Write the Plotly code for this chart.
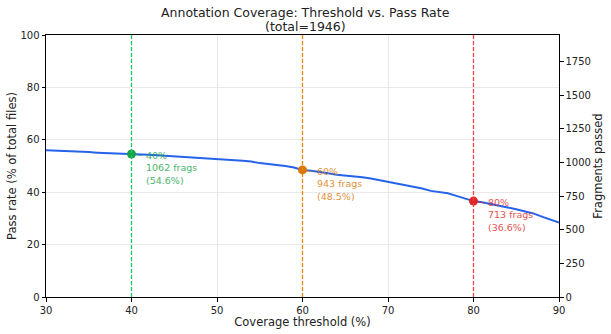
import plotly.graph_objects as go

total = 1946
thresholds = list(range(30, 91))
pass_rate = [56.0, 55.9, 55.8, 55.7, 55.4, 55.3, 55.1, 55.0, 54.9, 54.8,
             54.6, 54.4, 54.3, 54.1, 53.9, 53.8, 53.6, 53.3, 53.1, 53.0,
             52.6, 52.5, 52.3, 52.0, 51.7, 51.1, 50.8, 50.5, 50.0, 49.4,
             48.5, 48.2, 47.8, 47.2, 46.7, 46.4, 46.2, 45.7, 45.2, 44.6,
             43.8, 43.3, 42.8, 42.2, 41.4, 40.5, 40.1, 39.6, 38.6, 37.7,
             36.6, 36.2, 35.6, 35.0, 34.2, 33.5, 32.8, 31.9, 30.7, 29.6,
             28.4]

mark_thr = [40, 60, 80]
mark_frags = [1062, 943, 713]
mark_pct = [54.6, 48.5, 36.6]
mark_colors = ["#16a34a", "#d97706", "#dc2626"]
line_colors = ["#22c55e", "#e8870a", "#ef4444"]

title_lines = ["Annotation Coverage: Threshold vs. Pass Rate", "(total=1946)"]

FONT = "DejaVu Sans"

fig = go.Figure()
fig.add_trace(go.Scatter(x=thresholds, y=pass_rate, mode="lines",
                         line=dict(color="#2563eb", width=2), showlegend=False,
                         hoverinfo="skip"))
# invisible trace on the secondary axis (fragment counts)
fig.add_trace(go.Scatter(x=mark_thr, y=mark_frags, mode="markers", yaxis="y2",
                         marker=dict(opacity=0), showlegend=False, hoverinfo="skip"))

for t, f, p, c, lc in zip(mark_thr, mark_frags, mark_pct, mark_colors, line_colors):
    fig.add_shape(type="line", x0=t, x1=t, y0=0, y1=100, xref="x", yref="y",
                  line=dict(color=lc, width=1.3, dash="4px,2px"), layer="above")
    fig.add_trace(go.Scatter(x=[t], y=[p], mode="markers",
                             marker=dict(color=c, size=9), showlegend=False,
                             hoverinfo="skip"))
    # short pointer from the label to the point
    fig.add_annotation(x=t, y=p, xref="x", yref="y", text="",
                       showarrow=True, arrowhead=0, arrowwidth=0.8, arrowcolor=c,
                       ax=12, ay=2, opacity=0.8)
    fig.add_annotation(x=t, y=p, xref="x", yref="y",
                       text=f"{t}%<br>{f} frags<br>({p}%)",
                       showarrow=False, xshift=12, yshift=6,
                       xanchor="left", yanchor="top", align="left",
                       font=dict(family=FONT, size=9.5, color=c), opacity=0.8)

for i, txt in enumerate(title_lines):
    fig.add_annotation(x=0.505, y=1, xref="paper", yref="paper",
                       text=txt, showarrow=False, xanchor="center", yanchor="middle",
                       yshift=23 - 14 * i,
                       font=dict(family=FONT, size=12.5, color="#222"))

fig.update_layout(
    width=611, height=334,
    margin=dict(l=46, r=52, t=35, b=37),
    paper_bgcolor="white", plot_bgcolor="white",
    font=dict(family=FONT, size=10, color="#222"),
    xaxis=dict(range=[30, 90], tickvals=[30, 40, 50, 60, 70, 80, 90],
               showgrid=True, gridcolor="#e8e8e8", gridwidth=1,
               showline=True, linecolor="black", linewidth=1, mirror=True,
               ticks="outside", ticklen=3.5, tickcolor="black", zeroline=False,
               automargin=False,
               title=dict(text="Coverage threshold (%)", font=dict(size=11.5), standoff=2),
               tickfont=dict(size=10)),
    yaxis=dict(range=[0, 100], tickvals=[0, 20, 40, 60, 80, 100],
               showgrid=True, gridcolor="#e8e8e8", gridwidth=1,
               showline=True, linecolor="black", linewidth=1, mirror=True,
               ticks="outside", ticklen=3.5, tickcolor="black", zeroline=False,
               automargin=False,
               title=dict(text="Pass rate (% of total files)", font=dict(size=11.5), standoff=1),
               tickfont=dict(size=10)),
    yaxis2=dict(range=[0, total], overlaying="y", side="right",
                tickvals=[0, 250, 500, 750, 1000, 1250, 1500, 1750],
                showgrid=False, zeroline=False, showline=False,
                ticks="outside", ticklen=3.5, tickcolor="black",
                automargin=False,
                title=dict(text="Fragments passed", font=dict(size=11.5), standoff=2),
                tickfont=dict(size=10)),
)

fig.write_html("out.html")
